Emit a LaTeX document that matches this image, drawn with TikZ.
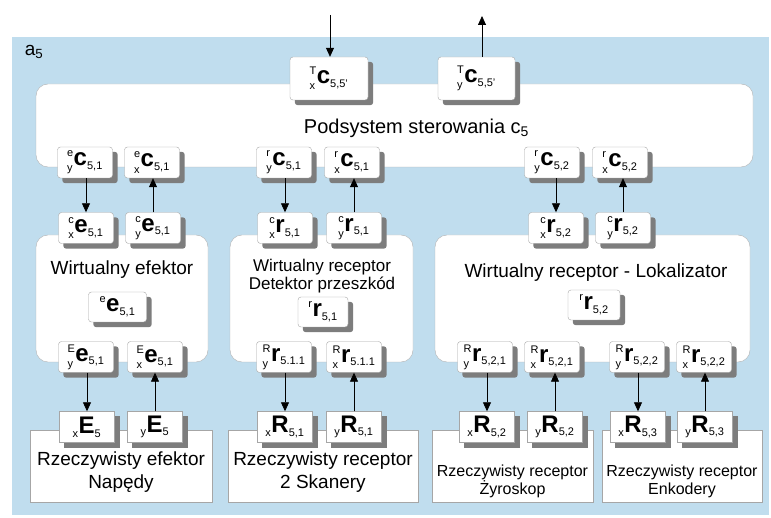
\documentclass[tikz,border=0pt]{standalone}
\usepackage{fontspec}
\setmainfont{Liberation Sans}
\usepackage{amsmath}
\usetikzlibrary{arrows.meta}
\pgfdeclarelayer{bg}
\pgfdeclarelayer{sh}
\pgfsetlayers{bg,sh,main}
\DeclareMathSizes{24}{24}{11}{9}
\newcommand\lb[4]{{\fontsize{24}{26}\selectfont$ {}^{\text{\mdseries#1}}_{\text{\mdseries#2}}\text{\bfseries#3}_{\text{\mdseries#4}} $}}
\newcommand\lbs[3]{{\fontsize{24}{26}\selectfont$ {}_{\text{\mdseries#1}}\text{\bfseries#2}_{\text{\mdseries#3}} $}}
\definecolor{bgblue}{RGB}{192,221,238}
\definecolor{shc}{RGB}{125,125,125}
\tikzset{
  sbox/.style={draw=black!35, fill=white, rounded corners=3pt, minimum width=55pt, minimum height=31pt, inner sep=0pt},
  rbox/.style={sbox, rounded corners=0pt},
  bigbox/.style={draw=black!30, fill=white, rounded corners=12pt, inner sep=0pt},
  realbox/.style={draw=black!35, fill=white, inner sep=0pt},
  arr/.style={-{Triangle[length=9pt,width=8pt]}, line width=0.8pt, black},
  bigtxt/.style={font=\fontsize{19}{22}\selectfont, align=center, inner sep=0pt},
  midtxt/.style={font=\fontsize{17}{20}\selectfont, align=center, inner sep=0pt},
  smtxt/.style={font=\fontsize{16}{18}\selectfont, align=center, inner sep=0pt}
}
\begin{document}
\begin{tikzpicture}[x=1pt,y=-1pt]
\useasboundingbox (0,0) rectangle (771,518);
\begin{pgfonlayer}{bg}
\fill[bgblue] (12,37) rectangle (769,515);
% big boxes
\node[bigbox, minimum width=717pt, minimum height=83pt] (ctrl) at (394.5,125.5) {};
\node[bigbox, minimum width=172pt, minimum height=127pt] (ve) at (122,298.5) {};
\node[bigbox, minimum width=183pt, minimum height=127pt] (vr) at (321.5,298.5) {};
\node[bigbox, minimum width=315pt, minimum height=127pt] (vl) at (592.5,298.5) {};
\node[realbox, minimum width=182pt, minimum height=72pt] (re) at (121,466) {};
\node[realbox, minimum width=190pt, minimum height=72pt] (rs) at (323,466) {};
\node[realbox, minimum width=161pt, minimum height=72pt] (rz) at (512.5,466) {};
\node[realbox, minimum width=160pt, minimum height=72pt] (rk) at (682,466) {};
\end{pgfonlayer}

% texts
\node[font=\fontsize{19}{20}\selectfont, inner sep=0pt] (a5) at (34,52) {a\textsubscript{5}};
\node[font=\fontsize{20}{22}\selectfont, inner sep=0pt] (ctrlt) at (416.5,128) {Podsystem sterowania c\textsubscript{5}};
\node[bigtxt] (vet) at (122,270) {Wirtualny efektor};
\node[midtxt] (vrt) at (322,276) {Wirtualny receptor\\[-2pt]Detektor przeszkód};
\node[bigtxt] (vlt) at (596,273) {Wirtualny receptor - Lokalizator};
\node[bigtxt] (ret) at (121,472) {Rzeczywisty efektor\\[1pt]Napędy};
\node[bigtxt] (rst) at (323,472) {Rzeczywisty receptor\\[1pt]2 Skanery};
\node[smtxt] (rzt) at (512.5,481) {Rzeczywisty receptor\\Żyroskop};
\node[smtxt] (rkt) at (682,481) {Rzeczywisty receptor\\Enkodery};

% top boxes
\node[sbox, minimum width=78pt, minimum height=43pt] (Tx) at (329,78.5) {\lb{T}{x}{c}{5,5'}};
\node[sbox, minimum width=77pt, minimum height=43pt] (Ty) at (476.5,78.5) {\lb{T}{y}{c}{5,5'}};

% row A
\node[sbox] (A1) at (85,162.5) {\lb{e}{y}{c}{5,1}};
\node[sbox] (A2) at (152,162.5) {\lb{e}{x}{c}{5,1}};
\node[sbox] (A3) at (284,162.5) {\lb{r}{y}{c}{5,1}};
\node[sbox] (A4) at (352,162.5) {\lb{r}{x}{c}{5,1}};
\node[sbox] (A5) at (552,162.5) {\lb{r}{y}{c}{5,2}};
\node[sbox] (A6) at (620,162.5) {\lb{r}{x}{c}{5,2}};
% row B
\node[sbox] (B1) at (86,228) {\lb{c}{x}{e}{5,1}};
\node[sbox] (B2) at (153,228) {\lb{c}{y}{e}{5,1}};
\node[sbox] (B3) at (285,228) {\lb{c}{x}{r}{5,1}};
\node[sbox] (B4) at (354,228) {\lb{c}{y}{r}{5,1}};
\node[sbox] (B5) at (556,228) {\lb{c}{x}{r}{5,2}};
\node[sbox] (B6) at (623,228) {\lb{c}{y}{r}{5,2}};
% inner
\node[sbox, minimum width=58pt, minimum height=30pt] (ee) at (117.5,307) {\lb{e}{}{e}{5,1}};
\node[sbox, minimum width=50pt, minimum height=30pt] (rr1) at (323,312) {\lb{r}{}{r}{5,1}};
\node[sbox, minimum width=52pt, minimum height=30pt] (rr2) at (594,305) {\lb{r}{}{r}{5,2}};
% row C
\node[sbox] (C1) at (86,357) {\lb{E}{y}{e}{5,1}};
\node[sbox] (C2) at (155,357) {\lb{E}{x}{e}{5,1}};
\node[sbox] (C3) at (284,357) {\lb{R}{y}{r}{5.1.1}};
\node[sbox] (C4) at (354,357) {\lb{R}{x}{r}{5.1.1}};
\node[sbox] (C5) at (485,357) {\lb{R}{y}{r}{5,2,1}};
\node[sbox] (C6) at (552,357) {\lb{R}{x}{r}{5,2,1}};
\node[sbox] (C7) at (637,357) {\lb{R}{y}{r}{5,2,2}};
\node[sbox] (C8) at (704,357) {\lb{R}{x}{r}{5,2,2}};
% row D
\node[rbox] (D1) at (87,427) {\lbs{x}{E}{5}};
\node[rbox] (D2) at (155,427) {\lbs{y}{E}{5}};
\node[rbox] (D3) at (285,427) {\lbs{x}{R}{5,1}};
\node[rbox] (D4) at (354,427) {\lbs{y}{R}{5,1}};
\node[rbox] (D5) at (487,427) {\lbs{x}{R}{5,2}};
\node[rbox] (D6) at (555,427) {\lbs{y}{R}{5,2}};
\node[rbox] (D7) at (638,427) {\lbs{x}{R}{5,3}};
\node[rbox] (D8) at (705,427) {\lbs{y}{R}{5,3}};

% shadows
\begin{pgfonlayer}{sh}
\foreach \n in {Tx,Ty,A1,A2,A3,A4,A5,A6,B1,B2,B3,B4,B5,B6,ee,rr1,rr2,C1,C2,C3,C4,C5,C6,C7,C8}{
  \fill[shc, rounded corners=3pt] ([shift={(5,5)}]\n.south west) rectangle ([shift={(5,5)}]\n.north east);
}
\foreach \n in {D1,D2,D3,D4,D5,D6,D7,D8}{
  \fill[shc] ([shift={(5,5)}]\n.south west) rectangle ([shift={(5,5)}]\n.north east);
}
\end{pgfonlayer}

% arrows
\coordinate (tin) at (330,15);
\coordinate (tout) at (482,16);
\draw[arr] (tin) -- (tin |- Tx.north);
\draw[arr] (Ty.north -| tout) -- (tout);
\foreach \d/\u in {A1/B1,A3/B3,A5/B5}{
  \draw[arr] (\u.north |- \d.south) -- (\u.north);
}
\foreach \l/\h in {B2/A2,B4/A4,B6/A6}{
  \draw[arr] (\l.north) -- (\l.north |- \h.south);
}
\foreach \d/\u in {C1/D1,C3/D3,C5/D5,C7/D7}{
  \draw[arr] (\u.north |- \d.south) -- (\u.north);
}
\foreach \l/\h in {D2/C2,D4/C4,D6/C6,D8/C8}{
  \draw[arr] (\l.north) -- (\l.north |- \h.south);
}
\end{tikzpicture}
\end{document}
